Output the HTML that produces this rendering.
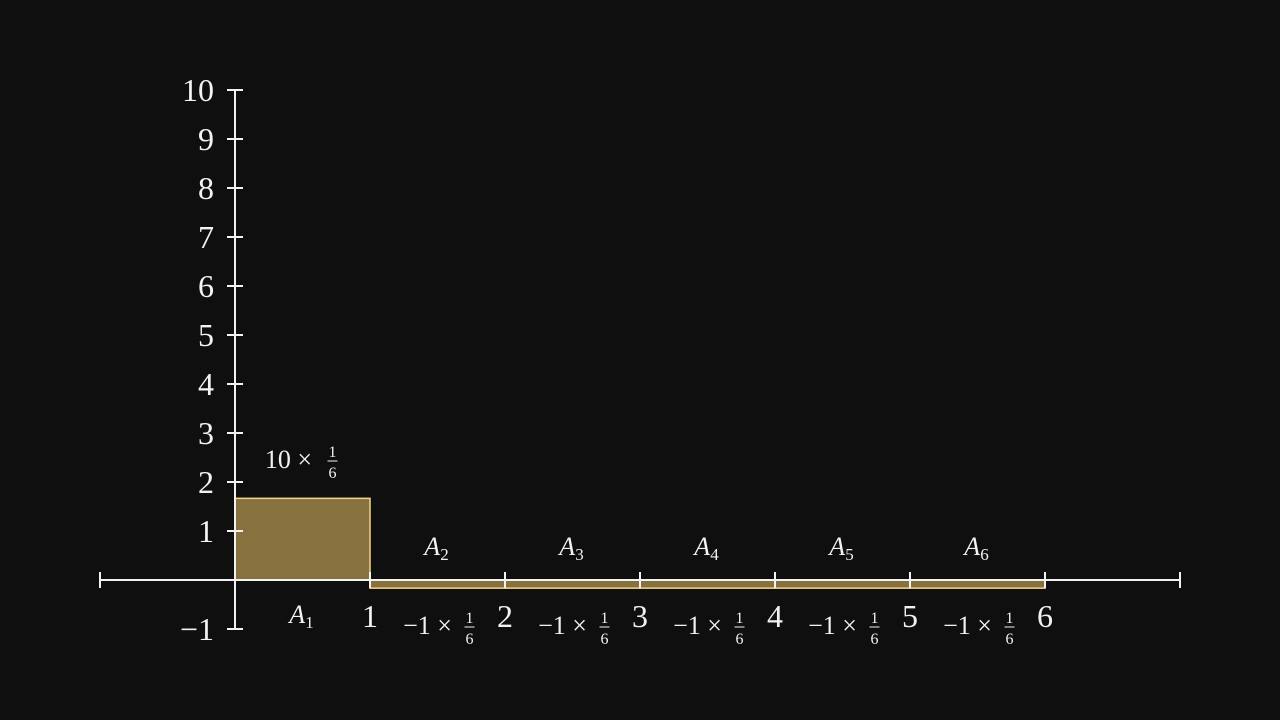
<!DOCTYPE html>
<html><head><meta charset="utf-8"><style>
html,body{margin:0;padding:0;background:#0f0f0f;width:1280px;height:720px;overflow:hidden;}
svg{display:block;}
svg text{font-family:"Liberation Serif",serif;fill:#f2f2f2;}
</style></head><body>
<svg width="1280" height="720" viewBox="0 0 1280 720">
<rect width="1280" height="720" fill="#0f0f0f"/>
<g id="bars"></g>
<g id="axes"></g>
<g id="labels"></g>
</svg>
<script>
const categories = ["A1","A2","A3","A4","A5","A6"];
const values = [10/6, -1/6, -1/6, -1/6, -1/6, -1/6];
const yTicks = [-1,0,1,2,3,4,5,6,7,8,9,10];
const xTicks = [1,2,3,4,5,6];
const NS="http://www.w3.org/2000/svg";
const X = v => 235 + v*135;
const Y = v => 580 - v*49;
function mk(tag, attrs, parent, txt){const e=document.createElementNS(NS,tag);for(const k in attrs)e.setAttribute(k,attrs[k]);if(txt!==undefined)e.textContent=txt;parent.appendChild(e);return e;}
const bars=document.getElementById('bars'), axes=document.getElementById('axes'), labels=document.getElementById('labels');
values.forEach((v,i)=>{
  const y0=Math.min(Y(0),Y(v)), h=Math.abs(Y(v)-Y(0));
  const r=mk('rect',{x:X(i),y:y0,width:X(i+1)-X(i),height:h,fill:"#87723f",stroke:"#f5d487","stroke-width":1.5},bars);
  
  
});
let l=mk('line',{x1:100,y1:580,x2:1180,y2:580,stroke:"#f2f2f2","stroke-width":2},axes);

l=mk('line',{x1:100,y1:572,x2:100,y2:588,stroke:"#f2f2f2","stroke-width":2},axes);

l=mk('line',{x1:1180,y1:572,x2:1180,y2:588,stroke:"#f2f2f2","stroke-width":2},axes);

l=mk('line',{x1:235,y1:Y(-1),x2:235,y2:Y(10),stroke:"#f2f2f2","stroke-width":2},axes);

yTicks.forEach(t=>{
  if(t===0)return;
  const tk=mk('line',{x1:227,y1:Y(t),x2:243,y2:Y(t),stroke:"#f2f2f2","stroke-width":2},axes);
  
  const tx=mk('text',{x:214,y:Y(t)+11,"text-anchor":"end","font-size":32},labels,t<0?"−"+(-t):String(t));
  
});
xTicks.forEach(t=>{
  const tk=mk('line',{x1:X(t),y1:572,x2:X(t),y2:588,stroke:"#f2f2f2","stroke-width":2},axes);
  
  const tx=mk('text',{x:X(t),y:627,"text-anchor":"middle","font-size":32},labels,String(t));
  
});
function frac(x,y,parent){
  mk('text',{x:x,y:y-11,"text-anchor":"middle","font-size":16},parent,"1");
  mk('line',{x1:x-5,y1:y-7,x2:x+5,y2:y-7,stroke:"#f2f2f2","stroke-width":1},parent);
  mk('text',{x:x,y:y+10,"text-anchor":"middle","font-size":16},parent,"6");
}
values.forEach((v,i)=>{
  const cx=(X(i)+X(i+1))/2;
  const g=mk('g',{},labels);
  
  
  const ly = v>0 ? 623 : 555;
  const t=mk('text',{x:cx-1,y:ly,"text-anchor":"middle","font-size":26,"font-style":"italic"},g,"A");
  mk('tspan',{"font-size":17,"font-style":"normal",dy:5},t,String(i+1));
  const g2=mk('g',{},labels);
  
  
  if(v>0){
    mk('text',{x:cx-14,y:468,"text-anchor":"middle","font-size":26},g2,"10 ×");
    frac(cx+30,468,g2);
  } else {
    mk('text',{x:cx-10,y:634,"text-anchor":"middle","font-size":26},g2,"−1 ×");
    frac(cx+32,634,g2);
  }
});
</script>
</body></html>
